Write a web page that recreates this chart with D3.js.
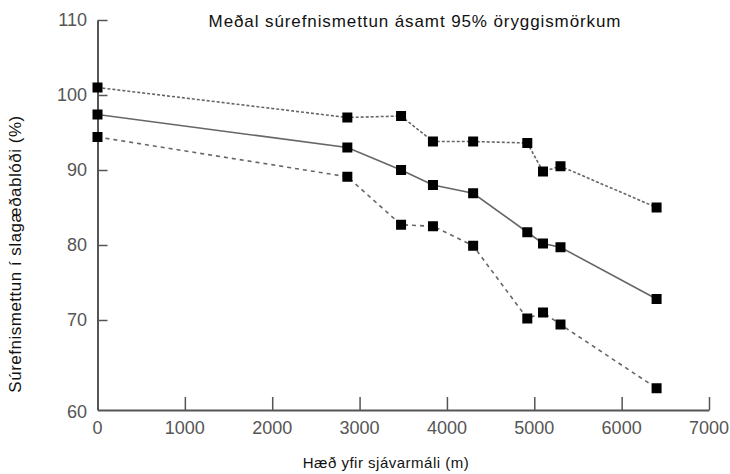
<!doctype html>
<html>
<head>
<meta charset="utf-8">
<script src="https://d3js.org/d3.v7.min.js"></script>
<style>
  body { margin: 0; background: #fff; }
  svg { display: block; font-family: "Liberation Sans", Arial, sans-serif; }
</style>
</head>
<body>
<script>
  // haed yfir sjavarmali (m)
  var altitudes = [0, 2860, 3475, 3840, 4300, 4920, 5100, 5300, 6400];
  var upper = [101.0, 97.0, 97.2, 93.8, 93.8, 93.6, 89.8, 90.5, 85.0];
  var mean  = [97.4, 93.0, 90.0, 88.0, 86.9, 81.7, 80.2, 79.7, 72.8];
  var lower = [94.4, 89.1, 82.7, 82.5, 79.9, 70.2, 71.0, 69.4, 60.9];
  var xTicks = [0, 1000, 2000, 3000, 4000, 5000, 6000, 7000];
  var yTicks = [70, 80, 90, 100, 110];

  var width = 730, height = 474;
  var svg = d3.select("body").append("svg").attr("width", width).attr("height", height);

  var xscale = d3.scaleLinear().domain([0, 7000]).range([97.5, 709]);
  var yscale = d3.scaleLinear().domain([58, 110]).range([410, 20]);

  var axisColor = "#555";

  // y axis
  var yAxis = svg.append("g").attr("transform", "translate(" + xscale(0) + ",0)")
    .call(d3.axisRight(yscale).tickValues(yTicks).tickSize(10).tickSizeOuter(0).tickFormat(""));
  yAxis.select(".domain").attr("stroke", axisColor).attr("stroke-width", 2);
  yAxis.selectAll(".tick line").attr("stroke", axisColor).attr("stroke-width", 1.5);

  var yLabels = yTicks.concat([60]);
  svg.append("g").selectAll("text").data(yLabels).join("text")
    .attr("x", 87)
    .attr("y", function(d) { return d == 60 ? yscale(58) + 2 : yscale(d); })
    .attr("dy", "0.35em")
    .attr("text-anchor", "end")
    .attr("font-size", 18)
    .attr("fill", axisColor)
    .text(function(d) { return d; });

  // x axis
  var xAxis = svg.append("g").attr("transform", "translate(0," + yscale(58) + ")")
    .call(d3.axisTop(xscale).tickValues(xTicks.slice(1)).tickSize(13).tickSizeOuter(0).tickFormat(""));
  xAxis.select(".domain").attr("stroke", axisColor).attr("stroke-width", 2);
  xAxis.selectAll(".tick line").attr("stroke", axisColor).attr("stroke-width", 1.5);

  svg.append("g").selectAll("text").data(xTicks).join("text")
    .attr("x", function(d) { return xscale(d); })
    .attr("y", 434)
    .attr("text-anchor", "middle")
    .attr("font-size", 18)
    .attr("fill", axisColor)
    .text(function(d) { return d; });

  // lines
  var line = d3.line()
    .x(function(d, i) { return xscale(altitudes[i]); })
    .y(function(d) { return yscale(d); });

  var series = [
    { values: upper, dash: "3,2" },
    { values: mean, dash: null },
    { values: lower, dash: "4,4" }
  ];

  series.forEach(function(s) {
    svg.append("path").datum(s.values)
      .attr("d", line)
      .attr("fill", "none")
      .attr("stroke", "#666")
      .attr("stroke-width", 1.6)
      .attr("stroke-dasharray", s.dash);
  });

  series.forEach(function(s) {
    svg.append("g").selectAll("rect").data(s.values).join("rect")
      .attr("x", function(d, i) { return xscale(altitudes[i]) - 5; })
      .attr("y", function(d) { return yscale(d) - 5; })
      .attr("width", 10)
      .attr("height", 10)
      .attr("fill", "#000");
  });

  // titles
  svg.append("text")
    .attr("x", 415).attr("y", 27)
    .attr("text-anchor", "middle")
    .attr("font-size", 17)
    .attr("letter-spacing", 0.9)
    .attr("fill", "#111")
    .text("Meðal súrefnismettun ásamt 95% öryggismörkum");

  svg.append("text")
    .attr("x", 386).attr("y", 468)
    .attr("text-anchor", "middle")
    .attr("font-size", 15)
    .attr("letter-spacing", 0.5)
    .attr("fill", "#111")
    .text("Hæð yfir sjávarmáli (m)");

  svg.append("text")
    .attr("transform", "translate(21,254) rotate(-90)")
    .attr("text-anchor", "middle")
    .attr("font-size", 17)
    .attr("letter-spacing", 0.5)
    .attr("fill", "#111")
    .text("Súrefnismettun í slagæðablóði (%)");
</script>
</body>
</html>
